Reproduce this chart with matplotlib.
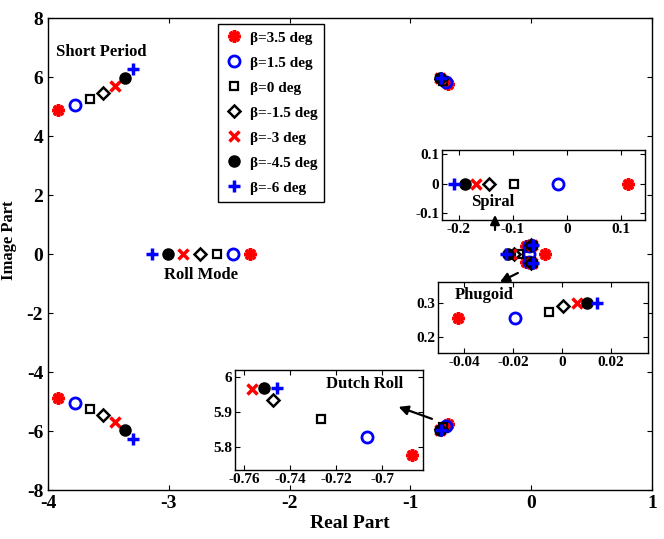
import matplotlib
matplotlib.use("Agg")
import matplotlib.pyplot as plt
from matplotlib.patches import FancyArrowPatch
from matplotlib.ticker import FuncFormatter

plt.rcParams.update({
    "font.family": ["Liberation Serif", "DejaVu Serif"],
    "font.weight": "bold",
    "axes.unicode_minus": False,
    "xtick.direction": "in",
    "ytick.direction": "in",
    "xtick.top": True,
    "ytick.right": True,
    "axes.linewidth": 1.0,
})

# ── Data: one entry per sideslip angle ──
LABELS = ["β=3.5 deg", "β=1.5 deg", "β=0 deg", "β=-1.5 deg",
          "β=-3 deg", "β=-4.5 deg", "β=-6 deg"]

SP_RE = [-3.92, -3.78, -3.65, -3.545, -3.445, -3.36, -3.30]   # short period
SP_IM = [4.88, 5.05, 5.26, 5.47, 5.70, 5.98, 6.26]
ROLL = [-2.33, -2.47, -2.60, -2.74, -2.88, -3.01, -3.14]       # roll mode
DR_RE = [-0.687, -0.7065, -0.7265, -0.7474, -0.7565, -0.7513, -0.7457]  # dutch roll
DR_IM = [5.777, 5.829, 5.880, 5.934, 5.966, 5.969, 5.969]
SPIRAL = [0.113, -0.017, -0.098, -0.144, -0.169, -0.189, -0.209]
PH_RE = [-0.0424, -0.0192, -0.0053, 0.0004, 0.0061, 0.0102, 0.0143]  # phugoid
PH_IM = [0.255, 0.255, 0.273, 0.290, 0.300, 0.300, 0.300]

# ── Marker styles ──
STYLES = [
    dict(marker=(8, 2, 0), color="red", ms=9, mew=2.5, mfc="red"),
    dict(marker="o", color="blue", ms=8, mew=2.0, mfc="none"),
    dict(marker="s", color="black", ms=6, mew=1.6, mfc="none"),
    dict(marker="D", color="black", ms=6.5, mew=1.8, mfc="none"),
    dict(marker="x", color="red", ms=7, mew=2.5),
    dict(marker="o", color="black", ms=8, mew=1.0, mfc="black"),
    dict(marker="+", color="blue", ms=9, mew=2.5),
]

fmt = FuncFormatter(lambda v, p: f"{v:g}")

fig = plt.figure(figsize=(6.64, 5.39), dpi=100)
ax = fig.add_axes([0.0723, 0.0909, 0.9097, 0.8757])

for i, st in enumerate(STYLES):
    xs = [SP_RE[i], SP_RE[i], ROLL[i], DR_RE[i], DR_RE[i], SPIRAL[i],
          PH_RE[i], PH_RE[i]]
    ys = [SP_IM[i], -SP_IM[i], 0, DR_IM[i], -DR_IM[i], 0, PH_IM[i], -PH_IM[i]]
    ax.plot(xs, ys, linestyle="none", label=LABELS[i], **st)

ax.set_xlim(-4, 1)
ax.set_ylim(-8, 8)
ax.set_xticks([-4, -3, -2, -1, 0, 1])
ax.set_yticks(range(-8, 9, 2))
ax.xaxis.set_major_formatter(fmt)
ax.yaxis.set_major_formatter(fmt)
ax.tick_params(labelsize=14)
ax.set_xlabel("Real Part", fontsize=14, fontweight="bold", labelpad=2)
ax.set_ylabel("Image Part", fontsize=12, fontweight="bold")
ax.yaxis.set_label_coords(-0.052, 0.53)

leg = ax.legend(loc="upper left", bbox_to_anchor=(0.281, 0.987),
                borderaxespad=0, fancybox=False, edgecolor="black",
                framealpha=1, numpoints=1, handlelength=1.2,
                handletextpad=0.45, labelspacing=0.74, borderpad=0.45,
                prop=dict(size=11, weight="bold"))
leg.get_frame().set_linewidth(1.0)

ax.text(-3.93, 6.85, "Short Period", fontsize=12, fontweight="bold",
        va="center", ha="left")
ax.text(-2.73, -0.71, "Roll Mode", fontsize=12, fontweight="bold",
        va="center", ha="center")


def inset(rect, xlim, ylim, xticks, yticks, xs, ys, title, tpos):
    a = fig.add_axes(rect)
    for i, st in enumerate(STYLES):
        a.plot([xs[i]], [ys[i]], linestyle="none", **st)
    a.set_xlim(*xlim)
    a.set_ylim(*ylim)
    a.set_xticks(xticks)
    a.set_yticks(yticks)
    a.xaxis.set_major_formatter(fmt)
    a.yaxis.set_major_formatter(fmt)
    a.tick_params(labelsize=11, pad=2)
    a.text(tpos[0], tpos[1], title, transform=a.transAxes, fontsize=12,
           fontweight="bold", ha="center", va="center")
    return a


inset([0.6657, 0.5918, 0.3057, 0.1299], (-0.231, 0.144), (-0.125, 0.115),
      [-0.2, -0.1, 0, 0.1], [-0.1, 0, 0.1], SPIRAL, [0] * 7, "Spiral",
      (0.25, 0.26))
inset([0.6596, 0.3451, 0.3163, 0.1317], (-0.0506, 0.0351), (0.153, 0.362),
      [-0.04, -0.02, 0, 0.02], [0.2, 0.3], PH_RE, PH_IM, "Phugoid",
      (0.22, 0.82))
inset([0.3539, 0.128, 0.2831, 0.1855], (-0.764, -0.6822), (5.734, 6.02),
      [-0.76, -0.74, -0.72, -0.7], [5.8, 5.9, 6], DR_RE, DR_IM, "Dutch Roll",
      (0.69, 0.86))

# arrows drawn on top of the insets
for tail, head in [((-0.30, 0.72), (-0.30, 1.42)),
                   ((-0.09, -0.60), (-0.28, -0.99)),
                   ((-0.80, -5.62), (-1.12, -5.15))]:
    fig.add_artist(FancyArrowPatch(tail, head, transform=ax.transData,
                                   arrowstyle="-|>", color="black", lw=1.6,
                                   mutation_scale=14, zorder=5))

fig.savefig("out.png", dpi=100)
